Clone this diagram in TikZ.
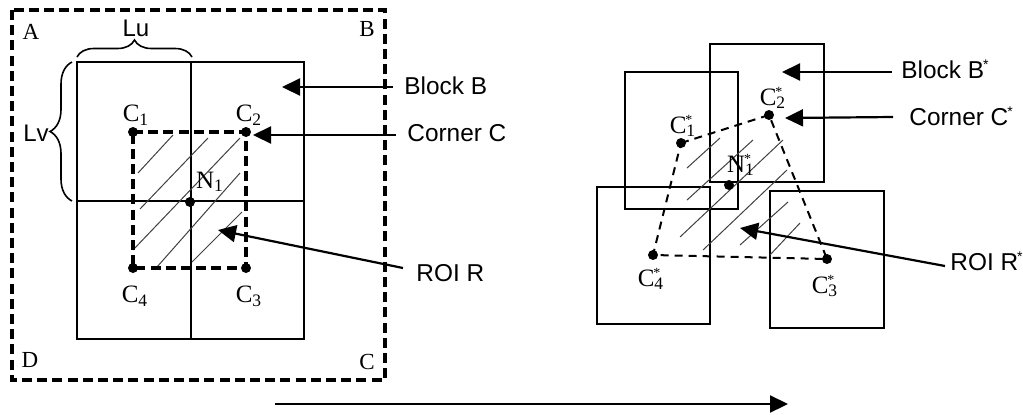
\documentclass[tikz,border=0pt]{standalone}
\usepackage{fontspec}
\setmainfont{Liberation Serif}
\newfontfamily\sansf{Liberation Sans}
\usetikzlibrary{arrows.meta,decorations.pathreplacing}
\newcommand\Csub[1]{C\textsubscript{#1}}
\newcommand\smallstar{\textsuperscript{\kern-0.5pt\scriptsize *}}
\newcommand\Cstar[1]{C\rlap{\smallstar}\textsubscript{#1}}
\tikzset{
  blockline/.style={draw, line width=0.8pt},
  midline/.style={line width=1.4pt},
  thickdash/.style={line width=1.6pt, dash pattern=on 5pt off 2.6pt},
  thindash/.style={line width=1pt, dash pattern=on 4pt off 3pt},
  hatch/.style={line width=0.5pt, black!75},
  pt/.style={circle, fill, inner sep=0pt, minimum size=5pt},
  arr/.style={line width=1.1pt, -{Triangle[length=9pt,width=8.5pt]}},
  slbl/.style={font=\sansf\fontsize{12.2}{14}\selectfont, anchor=west, inner sep=0pt},
  clbl/.style={font=\fontsize{12.5}{14}\selectfont, inner sep=0pt},
  cornerlbl/.style={font=\fontsize{11.5}{13}\selectfont, inner sep=0pt},
  llbl/.style={font=\sansf\fontsize{12}{13}\selectfont, inner sep=0pt},
  bracestyle/.style={line width=0.8pt, decorate},
}
\begin{document}
\begin{tikzpicture}[x=0.5pt,y=-0.5pt]
\useasboundingbox (0,0) rectangle (1023,414);

% ---------- left part ----------
\draw[thickdash] (12,10) rectangle (385,380);
\node[cornerlbl] (lA) at (31,32) {A};
\node[cornerlbl] (lB) at (367,29) {B};
\node[cornerlbl] (lD) at (30,360) {D};
\node[cornerlbl] (lC) at (367,362) {C};

\draw[blockline] (77,62) rectangle (304,339);
\draw[line width=0.8pt] (191,62) -- (191,339);
\draw[midline] (77,201) -- (304,201);

% braces
\draw[bracestyle, decoration={brace, amplitude=8.5pt}] (77,57) -- (192,57);
\draw[bracestyle, decoration={brace, amplitude=11pt}] (72,201) -- (72,62);
\node[llbl] (lu) at (136,28) {Lu};
\node[llbl] (lv) at (36,133) {Lv};

% hatch
\draw[hatch] (138,173) -- (173,135);
\draw[hatch] (140,209) -- (208,138);
\draw[hatch] (133,250) -- (240,138);
\draw[hatch] (157,267) -- (240,173);
\draw[hatch] (192,262) -- (242,212);

% corners
\node[pt] (c1) at (133,132) {};
\node[pt] (c2) at (246,132) {};
\node[pt] (c3) at (246,268) {};
\node[pt] (c4) at (133,268) {};
\node[pt] (n1) at (190,202) {};
\draw[thickdash] (c1.center) -- (c2.center) -- (c3.center) -- (c4.center) -- cycle;

\node[clbl] (lc1) at (136,115) {\Csub{1}};
\node[clbl] (lc2) at (249,115) {\Csub{2}};
\node[clbl] (lc4) at (135,296) {\Csub{4}};
\node[clbl] (lc3) at (249,296) {\Csub{3}};
\node[clbl] (ln1) at (210,182) {N\textsubscript{1}};

% labels and arrows
\node[slbl] (tb) at (404,86) {Block B};
\node[slbl] (tc) at (407,133) {Corner C};
\node[slbl] (tr) at (416,273) {ROI R};
\coordinate (sb) at (393,87);  \coordinate (eb) at (282,87);
\coordinate (sc) at (396,135); \coordinate (ec) at (253,135);
\coordinate (sr) at (403,268); \coordinate (er) at (218,230);
\draw[arr] (sb) -- (eb);
\draw[arr] (sc) -- (ec);
\draw[arr] (sr) -- (er);

% ---------- right part ----------
\draw[blockline] (625,72) rectangle (738,209);
\draw[blockline] (710,44) rectangle (824,182);
\draw[blockline] (597,187) rectangle (710,324);
\draw[blockline] (770,191) rectangle (884,328);

\draw[hatch] (687,168) -- (720,138);
\draw[hatch] (687,200) -- (753,140);
\draw[hatch] (680,237) -- (783,140);
\draw[hatch] (703,250) -- (787,170);
\draw[hatch] (740,245) -- (788,202);
\draw[hatch] (770,255) -- (800,223);

\node[pt] (d1) at (681,143) {};
\node[pt] (d2) at (769,115) {};
\node[pt] (d3) at (827,259) {};
\node[pt] (d4) at (653,255) {};
\node[pt] (m1) at (729,185) {};
\draw[thindash] (d1.center) -- (d2.center) -- (d3.center) -- (d4.center) -- cycle;

\node[clbl] (ld1) at (683,126) {\Cstar{1}};
\node[clbl] (ld2) at (773,98) {\Cstar{2}};
\node[clbl] (lm1) at (741,165) {N\rlap{\smallstar}\textsubscript{1}};
\node[clbl] (ld4) at (651,279) {\Cstar{4}};
\node[clbl] (ld3) at (825,286) {\Cstar{3}};

\node[slbl] (tbs) at (901,69) {Block B\smallstar};
\node[slbl] (tcs) at (909,116) {Corner C\smallstar};
\node[slbl] (trs) at (950,261) {ROI R\smallstar};
\coordinate (sbs) at (892,72);  \coordinate (ebs) at (782,72);
\coordinate (scs) at (893,117); \coordinate (ecs) at (785,118);
\coordinate (srs) at (945,266); \coordinate (ers) at (740,228);
\draw[arr] (sbs) -- (ebs);
\draw[arr] (scs) -- (ecs);
\draw[arr] (srs) -- (ers);

% bottom arrow
\coordinate (a0) at (275,404); \coordinate (a1) at (788,404);
\draw[arr] (a0) -- (a1);
\end{tikzpicture}
\end{document}
